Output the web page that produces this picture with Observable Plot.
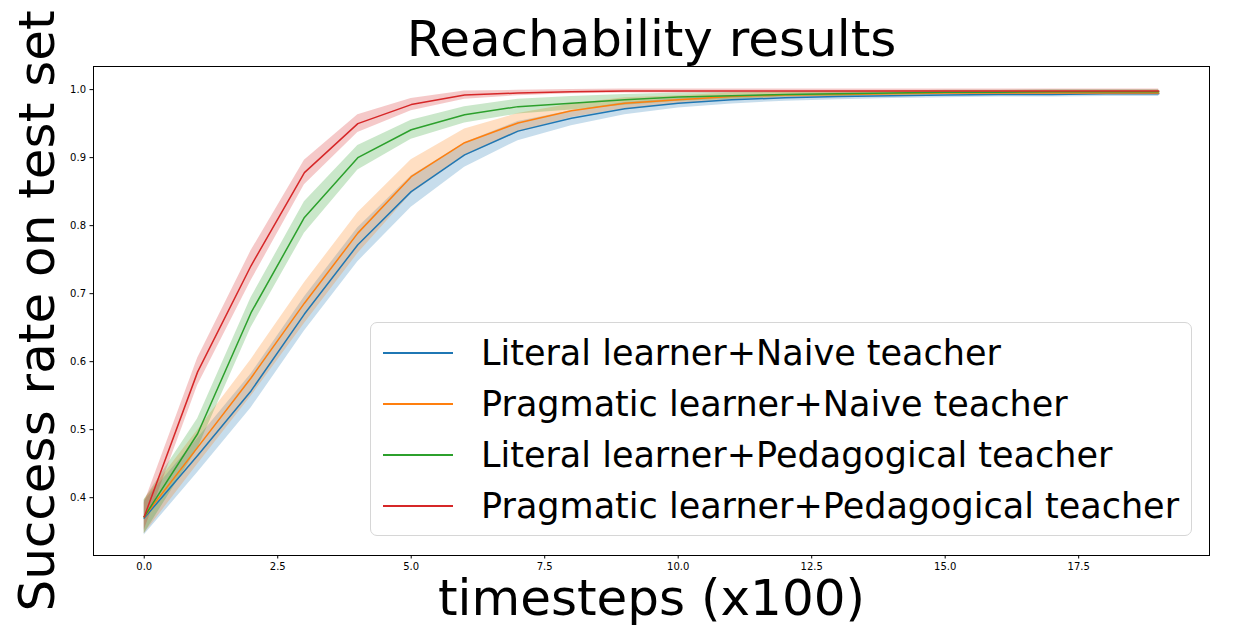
<!DOCTYPE html>
<html>
<head>
<meta charset="utf-8">
<script src="https://cdn.jsdelivr.net/npm/d3@7"></script>
<script src="https://cdn.jsdelivr.net/npm/@observablehq/plot@0.6"></script>
<style>
  html, body { margin: 0; padding: 0; background: #fff; }
  #wrap { position: relative; width: 1233px; height: 628px; font-family: "DejaVu Sans", sans-serif; }
  #legend { position: absolute; left: 370px; top: 322px; width: 822px; height: 214px;
    border: 1px solid #d6d6d6; border-radius: 7px; background: rgba(255,255,255,0.8); box-sizing: border-box; }
  .item { position: absolute; left: 12px; height: 51px; display: flex; align-items: center; }
  .sw { width: 70px; height: 2px; margin-right: 28px; }
  .lbl { font-size: 35px; color: #000; white-space: nowrap; }
</style>
</head>
<body>
<div id="wrap"></div>
<script>
// ---- data ----
const timesteps = [0,1,2,3,4,5,6,7,8,9,10,11,12,13,14,15,16,17,18,19];
const seriesNames = [
  "Literal learner+Naive teacher",
  "Pragmatic learner+Naive teacher",
  "Literal learner+Pedagogical teacher",
  "Pragmatic learner+Pedagogical teacher"
];
const seriesColors = ["#1f77b4", "#ff7f0e", "#2ca02c", "#d62728"];

const literalNaive      = [0.370,0.462,0.557,0.670,0.772,0.850,0.904,0.939,0.958,0.972,0.980,0.985,0.988,0.990,0.991,0.992,0.993,0.993,0.994,0.994];
const pragmaticNaive    = [0.372,0.474,0.576,0.686,0.789,0.872,0.922,0.951,0.969,0.980,0.985,0.990,0.992,0.993,0.994,0.995,0.995,0.995,0.995,0.995];
const literalPedagog    = [0.372,0.494,0.672,0.812,0.900,0.941,0.963,0.975,0.980,0.985,0.989,0.991,0.993,0.994,0.995,0.996,0.996,0.997,0.997,0.997];
const pragmaticPedagog  = [0.372,0.585,0.741,0.878,0.950,0.978,0.992,0.995,0.997,0.998,0.998,0.998,0.998,0.998,0.998,0.998,0.998,0.998,0.998,0.998];

const literalNaiveSd     = [0.025,0.025,0.025,0.025,0.025,0.023,0.018,0.014,0.011,0.009,0.007,0.006,0.005,0.005,0.004,0.004,0.004,0.004,0.004,0.004];
const pragmaticNaiveSd   = [0.025,0.025,0.027,0.030,0.030,0.025,0.020,0.014,0.010,0.008,0.006,0.005,0.004,0.004,0.004,0.003,0.003,0.003,0.003,0.003];
const literalPedagogSd   = [0.025,0.022,0.022,0.023,0.018,0.014,0.012,0.011,0.010,0.008,0.006,0.005,0.004,0.004,0.003,0.003,0.003,0.003,0.003,0.003];
const pragmaticPedagogSd = [0.020,0.020,0.022,0.018,0.013,0.009,0.006,0.004,0.003,0.003,0.003,0.003,0.003,0.003,0.003,0.003,0.003,0.003,0.003,0.003];

const xTicks = [0, 2.5, 5, 7.5, 10, 12.5, 15, 17.5];
const yTicks = [0.4, 0.5, 0.6, 0.7, 0.8, 0.9, 1.0];

const titleText = "Reachability results";
const xLabel = "timesteps (x100)";
const yLabel = "Success rate on test set";

// ---- build table ----
const means = [literalNaive, pragmaticNaive, literalPedagog, pragmaticPedagog];
const sds = [literalNaiveSd, pragmaticNaiveSd, literalPedagogSd, pragmaticPedagogSd];
const table = [];
seriesNames.forEach((name, i) => {
  timesteps.forEach((t, j) => {
    table.push({series: name, t, mean: means[i][j], lo: means[i][j] - sds[i][j], hi: means[i][j] + sds[i][j]});
  });
});

const chart = Plot.plot({
  width: 1233,
  height: 628,
  marginLeft: 93,
  marginRight: 24,
  marginTop: 66,
  marginBottom: 73,
  style: {fontFamily: "DejaVu Sans, sans-serif", background: "#fff", color: "#000"},
  x: {domain: [-0.95, 19.95]},
  y: {domain: [0.315, 1.034]},
  color: {domain: seriesNames, range: seriesColors},
  marks: [
    Plot.areaY(table, {x: "t", y1: "lo", y2: "hi", fill: "series", fillOpacity: 0.25, z: "series"}),
    Plot.lineY(table, {x: "t", y: "mean", stroke: "series", strokeWidth: 1.5, z: "series"}),
    Plot.frame({stroke: "#000", strokeWidth: 1}),
    Plot.axisX({ticks: xTicks, tickFormat: d3.format(".1f"), tickSize: 3.5, tickPadding: 4, fontSize: 10, label: null}),
    Plot.axisY({ticks: yTicks, tickFormat: d3.format(".1f"), tickSize: 3.5, tickPadding: 4, fontSize: 10, label: null}),
    Plot.text([titleText], {frameAnchor: "top", dy: -46, fontSize: 50, text: d => d}),
    Plot.text([xLabel], {frameAnchor: "bottom", dy: 59, fontSize: 50, text: d => d}),
    Plot.text([yLabel], {frameAnchor: "left", dx: -56, rotate: -90, textAnchor: "middle", fontSize: 50, text: d => d})
  ]
});

const wrap = document.getElementById("wrap");
wrap.appendChild(chart);

const legend = document.createElement("div");
legend.id = "legend";
seriesNames.forEach((name, i) => {
  const item = document.createElement("div");
  item.className = "item";
  item.style.top = (4 + i * 51) + "px";
  const sw = document.createElement("div");
  sw.className = "sw";
  sw.style.background = seriesColors[i];
  const lbl = document.createElement("span");
  lbl.className = "lbl";
  lbl.textContent = name;
  item.appendChild(sw);
  item.appendChild(lbl);
  legend.appendChild(item);
});
wrap.appendChild(legend);
</script>
</body>
</html>
